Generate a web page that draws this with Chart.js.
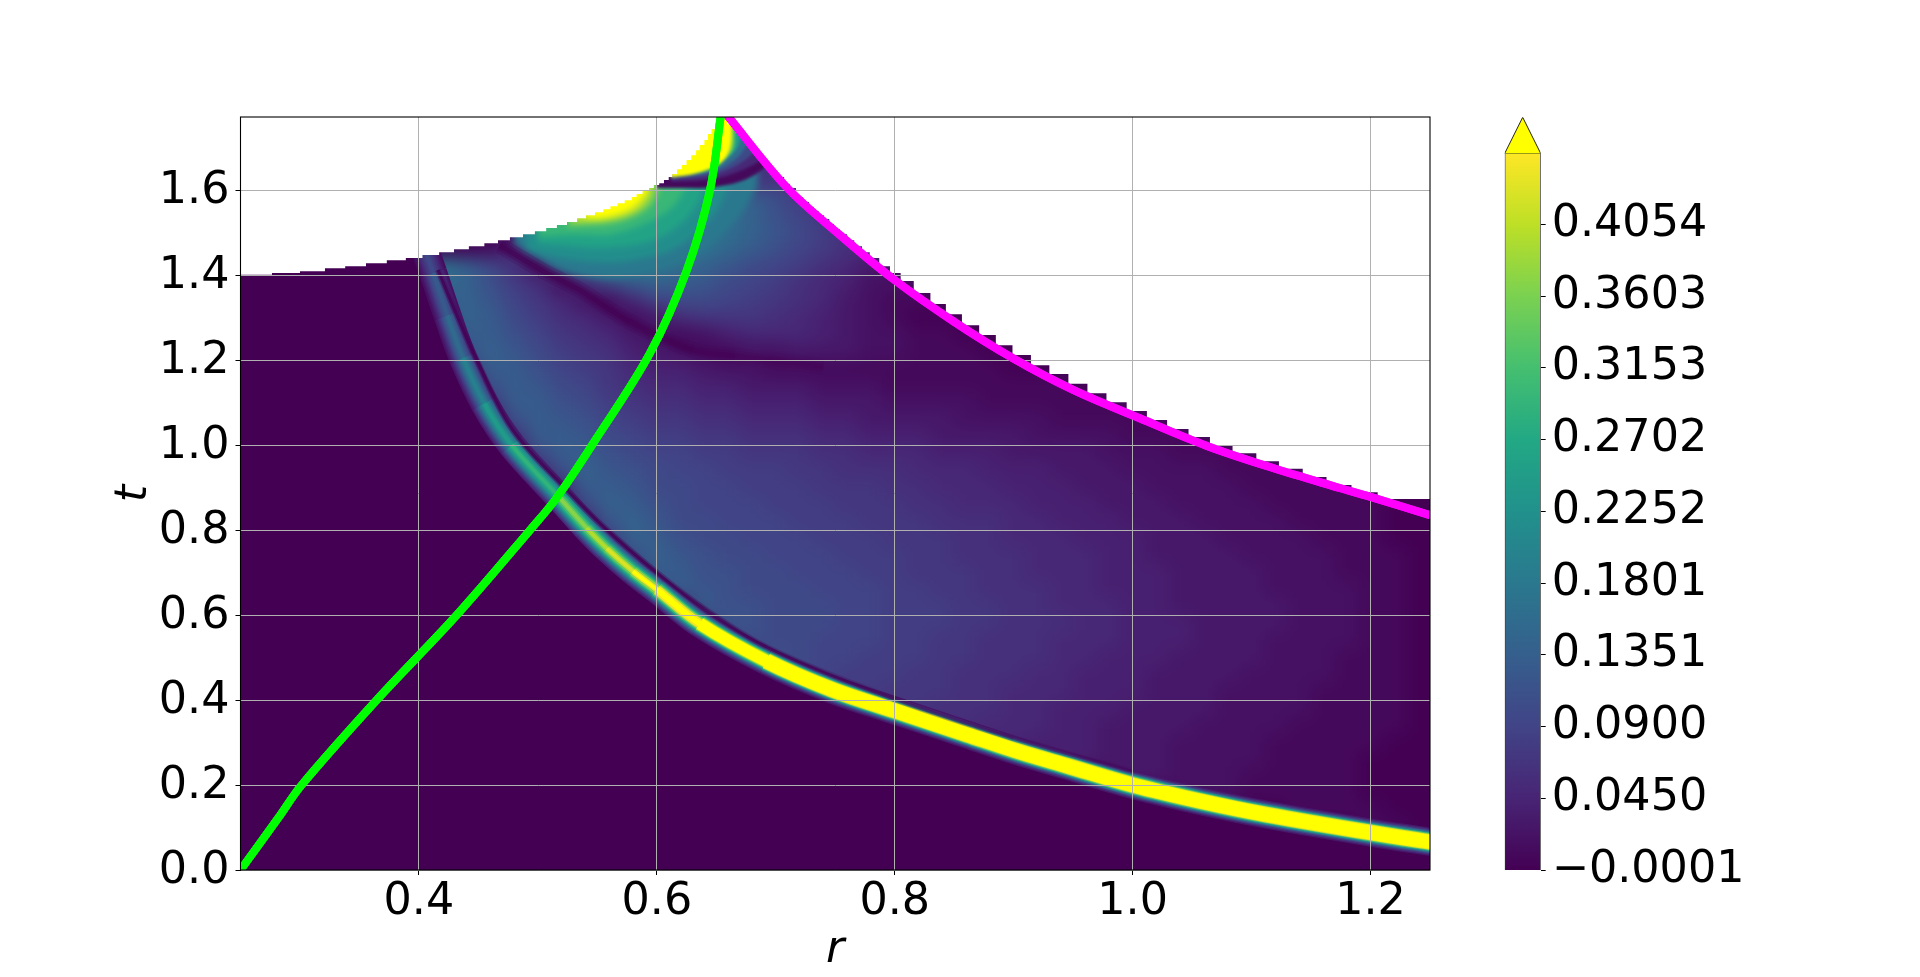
<!DOCTYPE html>
<html>
<head>
<meta charset="utf-8">
<title>r t map</title>
<script src="https://cdn.jsdelivr.net/npm/chart.js@4/dist/chart.umd.min.js"></script>
<style>
  html, body { margin: 0; padding: 0; background: #fff; overflow: hidden; }
  canvas { position: absolute; left: 0; top: 0; }
</style>
</head>
<body>
<canvas id="map" width="1920" height="977"></canvas>
<canvas id="bar" width="1920" height="977"></canvas>
<script>
const rTicks = [0.4, 0.6, 0.8, 1.0, 1.2]
const tTicks = [0, 0.2, 0.4, 0.6, 0.8, 1.0, 1.2, 1.4, 1.6]
const cbTicks = [-0.0001, 0.045, 0.09, 0.1351, 0.1801, 0.2252, 0.2702, 0.3153, 0.3603, 0.4054]
const cbLabels = ['\u22120.0001', '0.0450', '0.0900', '0.1351', '0.1801', '0.2252', '0.2702', '0.3153', '0.3603', '0.4054']

// viridis, 0 to 0.45, anything above is the "over" yellow
const viridis = ['#440154', '#482475', '#414487', '#355f8d', '#2a788e', '#21918c', '#22a884', '#44bf70', '#7ad151', '#bddf26', '#fde725']
const overColor = '#ffff00'
const vmax = 0.45

// diffuse part of the map, one char per cell, char index = value in 0.01 steps
const cellLevels = '0123456789abcdefghijklmnopqrstuvwxyz'
const fieldR = [0.42, 0.44, 0.46, 0.48, 0.50, 0.52, 0.54, 0.56, 0.58, 0.60, 0.62, 0.64, 0.66, 0.68, 0.70, 0.72, 0.74, 0.76, 0.78, 0.80, 0.82, 0.84, 0.86, 0.88, 0.90, 0.92, 0.94, 0.96, 0.98, 1.00, 1.02, 1.04, 1.06, 1.08, 1.10, 1.12, 1.14, 1.16, 1.18, 1.20, 1.22, 1.24]
const fieldT = [1.78, 1.74, 1.70, 1.66, 1.62, 1.58, 1.54, 1.50, 1.46, 1.42, 1.38, 1.34, 1.30, 1.26, 1.22, 1.18, 1.14, 1.10, 1.06, 1.02, 0.98, 0.94, 0.90, 0.86, 0.82, 0.78, 0.74, 0.70, 0.66, 0.62, 0.58, 0.54, 0.50, 0.46, 0.42, 0.38, 0.34, 0.30, 0.26, 0.22, 0.18, 0.14, 0.10, 0.06, 0.02]
const fieldRows = [
  '',
  '000000000000k9',
  '000000000000e84',
  '0000000000kkk96',
  '0000000000556575',
  '000000ptuunjgeb85',
  '000000rttsnjgeb9742',
  '0000pqrsrqmjgeca8642',
  '0015dilnonkhfdb9865321',
  'iea61bgijigeca9865321',
  'feb8615adedca98654221',
  'dec9752159aa987653211',
  'aeda8653136777654321',
  '6ddb976532124555432211',
  '0beca876432112233322111',
  '07ddb9875443221111111111',
  '01bdca976554433322211111111',
  '007ddba87665544433322221111111',
  '001bdcb98776655544333322221111111',
  '0006ddca98877666554443333222211111',
  '0001addba9988777665554443333222111111',
  '00004becba99888776665554443332222111111',
  '000005ddcaa9988877766555444333222211111',
  '000001aedba99988877766555444333222211111',
  '0000004cecaa9998887776665544433322221111',
  '00000008edbaa999888777665554443332222111',
  '00000002becbaa999888776665554433332222111',
  '000000006ddbbaa99988777665554443333222111',
  '0000000009dcbaaa9998877666554443333222211',
  '00000000005dbbaaa998887766555443333322211',
  '000000000007cbaaa99888776665544433332221 1'.replace(' ', ''),
  '0000000000008baa9998877666555444333222211',
  '00000000000006ba9988877666554443333222111',
  '000000000000006a9888776665544433332222111',
  '00000000000000007887776655544433322221111',
  '00000000000000000067766655444333322221111',
  '00000000000000000000566555443333222211111',
  '0000000000000000000000455444333222211111',
  '000000000000000000000000034433322221111',
  '000000000000000000000000000023322211111',
  '000000000000000000000000000000022211111',
  '0000000000000000000000000000000000001111',
  '00000000000000000000000000000000000000011',
  '',
  ''
]

// upper edge of the computed region, one stair per entry
const stairR = [0.25, 0.2765, 0.30, 0.321, 0.338, 0.3555, 0.373, 0.389, 0.403, 0.417, 0.4295, 0.442, 0.455, 0.4665, 0.4765, 0.4875, 0.4975, 0.507, 0.516, 0.5245, 0.533, 0.5405, 0.548, 0.555, 0.561, 0.567, 0.573, 0.579, 0.583, 0.588, 0.5935, 0.5975, 0.602, 0.606, 0.61, 0.613, 0.617, 0.621, 0.625, 0.629, 0.633, 0.636, 0.64, 0.643, 0.646, 0.649, 0.6515, 0.653, 0.659, 0.666, 0.6715, 0.6775, 0.683, 0.689, 0.695, 0.701, 0.707, 0.712, 0.717, 0.723, 0.728, 0.732, 0.736, 0.7405, 0.745, 0.749, 0.754, 0.76, 0.766, 0.7725, 0.779, 0.787, 0.796, 0.805, 0.816, 0.83, 0.843, 0.8565, 0.871, 0.885, 0.899, 0.9145, 0.93, 0.946, 0.962, 0.978, 0.995, 1.012, 1.029, 1.047, 1.065, 1.084, 1.104, 1.123, 1.143, 1.163, 1.184, 1.206, 1.228, 1.25]
const stairT = [1.396, 1.401, 1.405, 1.409, 1.416, 1.421, 1.428, 1.435, 1.44, 1.447, 1.454, 1.461, 1.468, 1.475, 1.482, 1.489, 1.496, 1.503, 1.511, 1.518, 1.525, 1.534, 1.541, 1.548, 1.555, 1.562, 1.569, 1.576, 1.584, 1.591, 1.598, 1.605, 1.612, 1.616, 1.624, 1.631, 1.638, 1.649, 1.659, 1.671, 1.682, 1.694, 1.706, 1.718, 1.732, 1.744, 1.758, 1.78, 1.78, 1.755, 1.736, 1.718, 1.699, 1.682, 1.664, 1.647, 1.631, 1.614, 1.605, 1.584, 1.572, 1.56, 1.551, 1.541, 1.532, 1.52, 1.508, 1.496, 1.482, 1.468, 1.454, 1.44, 1.421, 1.405, 1.386, 1.358, 1.332, 1.308, 1.282, 1.259, 1.235, 1.212, 1.188, 1.167, 1.144, 1.122, 1.101, 1.08, 1.059, 1.038, 1.019, 1.0, 0.981, 0.962, 0.944, 0.925, 0.906, 0.889, 0.873, 0.873]

// the narrow bright band: centre, peak value, how soft its shoulders are on that stretch
const bandR = [0.40, 0.412, 0.424, 0.437, 0.455, 0.478, 0.5186, 0.541, 0.558, 0.58, 0.60, 0.636, 0.692, 0.748, 0.80, 0.8605, 0.905, 0.945, 1.0, 1.057, 1.113, 1.2, 1.26]
const bandT = [1.50, 1.405, 1.305, 1.205, 1.098, 1.0, 0.875, 0.805, 0.757, 0.703, 0.66, 0.58, 0.492, 0.424, 0.375, 0.319, 0.278, 0.245, 0.2, 0.162, 0.13, 0.088, 0.062]
const bandPeak = [0.1, 0.13, 0.16, 0.2, 0.25, 0.3, 0.38, 0.41, 0.44, 0.49, 0.6, 0.9, 1.5, 1.5, 1.5, 1.5, 1.5, 1.5, 1.5, 1.5, 1.5, 1.5, 1.5]
const bandSoft = [0.5, 0.5, 0.5, 0.5, 0.5, 0.5, 0.5, 0.55, 0.6, 0.65, 0.7, 0.85, 1, 1, 1, 1, 1, 1, 1, 1, 1, 1, 1]
const bandFrac = [0.02, 0.04, 0.07, 0.11, 0.16, 0.22, 0.29, 0.38, 0.5, 0.65, 0.85, 0.95]
const bandWidth = [28, 25.4, 23, 21, 19.1, 17.4, 15.7, 13.9, 11.8, 9.3, 5.7, 3]

// thin dark line above the band
const edgeR = [0.416, 0.43, 0.4497, 0.479, 0.5245, 0.552, 0.60, 0.64, 0.692, 0.80, 0.90, 1.0]
const edgeT = [1.412, 1.318, 1.193, 1.035, 0.894, 0.816, 0.70, 0.615, 0.525, 0.402, 0.31, 0.232]
const edgeFade = [1, 1, 1, 1, 1, 1, 0.9, 0.8, 0.7, 0.55, 0.4, 0.2]

// dark ridge across the fan
const ridgeR = [0.468, 0.504, 0.535, 0.5775, 0.63, 0.665, 0.74]
const ridgeT = [1.47, 1.41, 1.365, 1.29, 1.224, 1.21, 1.185]
const ridgeFade = [1, 1, 1, 0.9, 0.7, 0.45, 0.1]

// hot spot under the stairs left of the tip: filled from each contour upward
const hotLevels = [0.18, 0.22, 0.26, 0.30, 0.36, 0.41, 0.46]
const hotR = [
  [0.48, 0.50, 0.52, 0.54, 0.56, 0.58, 0.60, 0.62, 0.645, 0.67, 0.685],
  [0.49, 0.51, 0.53, 0.55, 0.57, 0.59, 0.61, 0.63, 0.65, 0.66],
  [0.50, 0.52, 0.54, 0.56, 0.58, 0.60, 0.62, 0.635, 0.64],
  [0.50, 0.52, 0.54, 0.56, 0.58, 0.60, 0.615, 0.625],
  [0.525, 0.54, 0.555, 0.57, 0.585, 0.595, 0.602],
  [0.53, 0.548, 0.562, 0.575, 0.587, 0.595],
  [0.5405, 0.555, 0.569, 0.58, 0.5875, 0.592]
]
const hotT = [
  [1.475, 1.44, 1.41, 1.395, 1.39, 1.395, 1.41, 1.43, 1.47, 1.54, 1.61],
  [1.46, 1.445, 1.435, 1.43, 1.43, 1.44, 1.455, 1.49, 1.55, 1.61],
  [1.475, 1.47, 1.465, 1.465, 1.47, 1.485, 1.52, 1.57, 1.61],
  [1.49, 1.495, 1.495, 1.495, 1.51, 1.535, 1.565, 1.61],
  [1.515, 1.518, 1.52, 1.528, 1.545, 1.565, 1.60],
  [1.525, 1.527, 1.532, 1.54, 1.56, 1.59],
  [1.534, 1.534, 1.545, 1.56, 1.58, 1.596]
]

// dark arc and the yellow cap right below the tip, same idea
const capLevels = [0.01, 0.05, 0.10, 0.16, 0.24, 0.32, 0.40, 0.46]
const capR = [
  [0.60, 0.62, 0.645, 0.67, 0.687, 0.70],
  [0.612, 0.645, 0.67, 0.69, 0.71],
  [0.612, 0.645, 0.665, 0.68, 0.695],
  [0.612, 0.645, 0.66, 0.672, 0.682],
  [0.612, 0.645, 0.655, 0.668, 0.672],
  [0.612, 0.645, 0.656, 0.665, 0.666],
  [0.612, 0.645, 0.656, 0.663, 0.664],
  [0.612, 0.63, 0.645, 0.656, 0.661, 0.6625, 0.663]
]
const capT = [
  [1.605, 1.605, 1.606, 1.62, 1.645, 1.68],
  [1.62, 1.625, 1.645, 1.675, 1.72],
  [1.625, 1.635, 1.655, 1.685, 1.735],
  [1.628, 1.642, 1.66, 1.69, 1.74],
  [1.63, 1.645, 1.665, 1.70, 1.75],
  [1.63, 1.648, 1.668, 1.70, 1.76],
  [1.63, 1.65, 1.67, 1.70, 1.76],
  [1.63, 1.637, 1.652, 1.67, 1.70, 1.735, 1.78]
]

const greenR = [0.25, 0.2816, 0.3014, 0.3645, 0.4318, 0.4934, 0.5158, 0.546, 0.594, 0.625, 0.6447, 0.654]
const greenT = [0, 0.122, 0.2, 0.4, 0.6, 0.8, 0.876, 1.002, 1.215, 1.41, 1.6, 1.78]

const magentaR = [0.658, 0.709, 0.754, 0.80, 0.85, 0.899, 0.95, 1.006, 1.0625, 1.118, 1.174, 1.2, 1.25]
const magentaT = [1.78, 1.607, 1.494, 1.388, 1.29, 1.205, 1.13, 1.063, 0.998, 0.946, 0.899, 0.878, 0.835]

const fontName = "'DejaVu Sans'"
const fontPx = 44.44

function colorFor(v) {
    if (v >= vmax) return overColor
    const pos = Math.max(v, 0) / vmax * (viridis.length - 1)
    const i = Math.floor(pos)
    const f = pos - i
    const a = parseInt(viridis[i].slice(1), 16)
    const b = parseInt(viridis[i + 1].slice(1), 16)
    const mix = shift => Math.round(((a >> shift) & 255) * (1 - f) + ((b >> shift) & 255) * f)
    return 'rgb(' + mix(16) + ',' + mix(8) + ',' + mix(0) + ')'
}

function zip(xs, ys) {
    return xs.map((x, i) => ({ x: x, y: ys[i] }))
}

function curve(xs, ys, extra) {
    return Object.assign({
        type: 'line',
        data: zip(xs, ys),
        pointRadius: 0,
        borderWidth: 0,
        borderColor: 'transparent',
        fill: false,
        tension: 0.35
    }, extra)
}

function fading(alpha, fade) {
    return ctx => 'rgba(68,1,84,' + alpha * fade[ctx.p0DataIndex] + ')'
}

function fieldCells() {
    const cells = []
    fieldRows.forEach((row, j) => {
        fieldR.forEach((r, i) => {
            const ch = row[i] || '0'
            cells.push({ x: r, y: [fieldT[j] - 0.02, fieldT[j] + 0.02], v: cellLevels.indexOf(ch) / 100 })
        })
    })
    return cells
}

function buildDatasets() {
    const sets = []
    sets.push({
        type: 'line',
        data: zip(stairR, stairT),
        stepped: 'after',
        pointRadius: 0,
        borderWidth: 0,
        backgroundColor: viridis[0],
        fill: 'origin',
        order: 61
    })
    sets.push({
        type: 'bar',
        data: fieldCells(),
        grouped: false,
        barThickness: 24,
        inflateAmount: 0.6,
        borderWidth: 0,
        backgroundColor: ctx => (ctx.raw ? colorFor(ctx.raw.v) : viridis[0]),
        soften: { blur: 9, edge: true },
        order: 60
    })
    // everything under the band is flat
    sets.push(curve([0.25].concat(bandR), [1.8].concat(bandT), {
        backgroundColor: viridis[0],
        fill: 'origin',
        order: 59
    }))
    hotLevels.forEach((lv, i) => {
        const last = i == hotLevels.length - 1
        sets.push(curve(hotR[i], hotT[i], {
            backgroundColor: colorFor(lv),
            fill: 'end',
            soften: last ? { blur: 3, box: [0.47, 0.72, 1.36, 1.772] } : null,
            order: 58 - i
        }))
    })
    bandFrac.forEach((frac, i) => {
        sets.push(curve(bandR, bandT, {
            borderWidth: bandWidth[i],
            borderColor: colorFor(frac * 1.5),
            segment: { borderColor: ctx => colorFor(bandPeak[ctx.p0DataIndex] * Math.pow(frac, bandSoft[ctx.p0DataIndex])) },
            order: 49 - i
        }))
    })
    sets.push(curve(ridgeR, ridgeT, { borderWidth: 16, segment: { borderColor: fading(0.22, ridgeFade) }, order: 30 }))
    sets.push(curve(ridgeR, ridgeT, { borderWidth: 10, segment: { borderColor: fading(0.35, ridgeFade) }, order: 29 }))
    sets.push(curve(ridgeR, ridgeT, { borderWidth: 5, segment: { borderColor: fading(0.6, ridgeFade) }, order: 28 }))
    sets.push(curve(edgeR, edgeT, { borderWidth: 6, segment: { borderColor: fading(0.4, edgeFade) }, order: 27 }))
    sets.push(curve(edgeR, edgeT, { borderWidth: 3, segment: { borderColor: fading(0.8, edgeFade) }, order: 26 }))
    capLevels.forEach((lv, i) => {
        const last = i == capLevels.length - 1
        sets.push(curve(capR[i], capT[i], {
            backgroundColor: colorFor(lv),
            fill: 'end',
            soften: last ? { blur: 1.5, box: [0.6, 0.72, 1.57, 1.772] } : null,
            order: 25 - i
        }))
    })
    // white above the stairs
    sets.push({
        type: 'line',
        data: zip(stairR, stairT),
        stepped: 'after',
        pointRadius: 0,
        borderWidth: 0,
        backgroundColor: '#ffffff',
        fill: 'end',
        order: 5
    })
    sets.push(curve(magentaR, magentaT, { label: 'top', borderWidth: 8, borderColor: '#ff00ff', order: 2 }))
    sets.push(curve(greenR, greenT, { label: 'top', borderWidth: 8, borderColor: '#00ff00', order: 1 }))
    return sets
}

// the map is a smooth shading in the original, so the cells get blurred together
const softShade = {
    id: 'softShade',
    afterDatasetDraw(chart, args) {
        const soft = chart.data.datasets[args.index].soften
        if (!soft) return
        const ctx = chart.ctx
        const a = chart.chartArea
        const sx = chart.scales.x
        const sy = chart.scales.y
        let box = [a.left, a.top, a.right - a.left, a.bottom - a.top]
        if (soft.box) {
            const l = sx.getPixelForValue(soft.box[0])
            const r = sx.getPixelForValue(soft.box[1])
            const b = sy.getPixelForValue(soft.box[2])
            const t = sy.getPixelForValue(soft.box[3])
            box = [l, t, r - l, b - t]
        }
        if (soft.edge) {
            ctx.fillStyle = viridis[0]
            ctx.fillRect(a.right, a.top, 60, a.bottom - a.top)
        }
        ctx.save()
        ctx.beginPath()
        ctx.rect(box[0], box[1], box[2], box[3])
        ctx.clip()
        ctx.filter = 'blur(' + soft.blur + 'px)'
        ctx.drawImage(chart.canvas, 0, 0)
        ctx.restore()
        if (soft.edge) ctx.clearRect(a.right, a.top, 60, a.bottom - a.top)
    }
}

// curves go over the grid, and the spines over everything
const overGrid = {
    id: 'overGrid',
    afterDraw(chart) {
        const ctx = chart.ctx
        const a = chart.chartArea
        ctx.save()
        ctx.beginPath()
        ctx.rect(a.left, a.top, a.right - a.left, a.bottom - a.top)
        ctx.clip()
        chart.data.datasets.forEach((ds, i) => {
            if (ds.label == 'top') chart.getDatasetMeta(i).controller.draw()
        })
        ctx.restore()
        ctx.save()
        ctx.strokeStyle = '#000'
        ctx.lineWidth = 1.1
        ctx.strokeRect(a.left, a.top, a.right - a.left, a.bottom - a.top)
        ctx.restore()
    }
}

function tickFormat(v) {
    return Number(v).toFixed(1)
}

new Chart(document.getElementById('map'), {
    type: 'bar',
    data: { datasets: buildDatasets() },
    plugins: [softShade, overGrid],
    options: {
        responsive: false,
        animation: false,
        events: [],
        layout: { padding: { top: 117, right: 490, left: 0, bottom: 0 } },
        plugins: { legend: { display: false }, tooltip: { enabled: false } },
        scales: {
            x: {
                type: 'linear',
                offset: false,
                min: 0.25,
                max: 1.25,
                afterFit: s => { s.height = 107 },
                afterBuildTicks: s => { s.ticks = rTicks.map(v => ({ value: v })) },
                grid: { offset: false, color: '#b0b0b0', lineWidth: 1, z: 1, tickColor: '#000', tickLength: 5, tickWidth: 1 },
                border: { display: false },
                ticks: { z: 1, callback: tickFormat, color: '#000', padding: 1, maxRotation: 0, autoSkip: false, font: { family: fontName, size: fontPx } },
                title: { display: true, text: 'r', color: '#000', padding: { top: 0, bottom: 0 }, font: { family: fontName, size: fontPx, style: 'italic' } }
            },
            y: {
                type: 'linear',
                min: 0,
                max: 1.772,
                afterFit: s => { s.width = 240.5 },
                afterBuildTicks: s => { s.ticks = tTicks.map(v => ({ value: v })) },
                grid: { color: '#b0b0b0', lineWidth: 1, z: 1, tickColor: '#000', tickLength: 5, tickWidth: 1 },
                border: { display: false },
                ticks: { z: 1, callback: tickFormat, color: '#000', padding: 6, labelOffset: 1, autoSkip: false, font: { family: fontName, size: fontPx } },
                title: { display: true, text: 't', color: '#000', padding: { top: 108, bottom: 0 }, font: { family: fontName, size: fontPx, style: 'italic' } }
            }
        }
    }
})

function barGradient(ctx) {
    const y = ctx.chart.scales.y
    if (!ctx.chart.chartArea || !y) return viridis[0]
    const y0 = y.getPixelForValue(-0.0001)
    const y1 = y.getPixelForValue(vmax)
    if (!isFinite(y0) || !isFinite(y1)) return viridis[0]
    const g = ctx.chart.ctx.createLinearGradient(0, y0, 0, y1)
    viridis.forEach((c, i) => g.addColorStop(i / (viridis.length - 1), c))
    return g
}

new Chart(document.getElementById('bar'), {
    type: 'bar',
    data: {
        datasets: [
            {
                data: [{ x: 0, y: [-0.0001, vmax] }],
                grouped: false,
                barThickness: 36,
                backgroundColor: barGradient,
                borderColor: '#333',
                borderWidth: 1,
                order: 2
            },
            {
                type: 'line',
                data: [{ x: -0.5, y: vmax }, { x: 0, y: 0.4727 }, { x: 0.5, y: vmax }],
                pointRadius: 0,
                borderColor: '#222',
                borderWidth: 1,
                backgroundColor: overColor,
                fill: { value: vmax },
                order: 1
            }
        ]
    },
    options: {
        responsive: false,
        animation: false,
        events: [],
        layout: { padding: { top: 117.3, left: 1504.7, bottom: 107, right: 0 } },
        plugins: { legend: { display: false }, tooltip: { enabled: false } },
        scales: {
            x: { type: 'linear', offset: false, display: false, min: -0.5, max: 0.5 },
            y: {
                type: 'linear',
                position: 'right',
                min: -0.0001,
                max: 0.4727,
                afterFit: s => { s.width = 379.3 },
                afterBuildTicks: s => { s.ticks = cbTicks.map(v => ({ value: v })) },
                grid: { drawOnChartArea: false, tickColor: '#000', tickLength: 5, tickWidth: 1 },
                border: { display: false },
                ticks: {
                    color: '#000',
                    padding: 6,
                    autoSkip: false,
                    callback: (v, i) => cbLabels[i],
                    font: { family: fontName, size: fontPx }
                }
            }
        }
    }
})
</script>
</body>
</html>
